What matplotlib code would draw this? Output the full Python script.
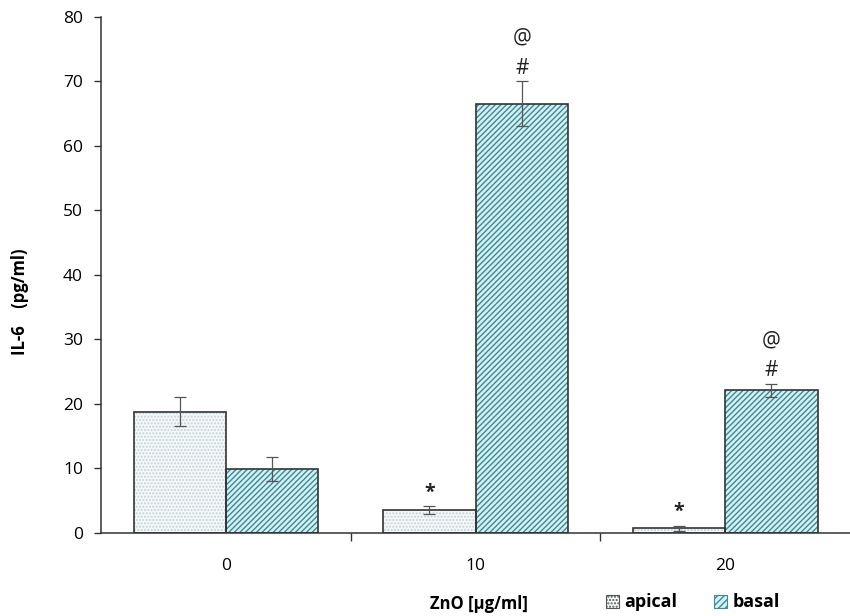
import matplotlib.pyplot as plt
from matplotlib.patches import Patch
import numpy as np

plt.rcParams['font.family'] = ['Open Sans', 'DejaVu Sans']

# data
doses = ['0', '10', '20']
apical = [18.8, 3.5, 0.7]
apical_err = [2.3, 0.6, 0.4]
basal = [9.9, 66.5, 22.1]
basal_err = [1.9, 3.5, 1.0]
apical_marks = ['', '*', '*']
basal_marks = [False, True, True]

fig = plt.figure(figsize=(8.5, 6.16), dpi=100)
ax = fig.add_axes([0.119, 0.135, 0.881, 0.838])

x = np.arange(len(doses))
w = 0.37
pos_a = x - w / 2
pos_b = x + w / 2

# hatched fills (hatch colour comes from edgecolor), then dark outlines on top
ax.bar(pos_a, apical, w, color='#f4f8f9', edgecolor='#c3d4d8', hatch='.....', linewidth=0, zorder=2)
ax.bar(pos_b, basal, w, color='#d3f0f2', edgecolor='#3f8a96', hatch='//////', linewidth=0, zorder=2)
ax.bar(pos_a, apical, w, fill=False, edgecolor='#333333', linewidth=1.2, zorder=3)
ax.bar(pos_b, basal, w, fill=False, edgecolor='#333333', linewidth=1.2, zorder=3)

ax.errorbar(pos_a, apical, yerr=apical_err, fmt='none', ecolor='#555555', elinewidth=0.9, capsize=4, capthick=0.9, zorder=4)
ax.errorbar(pos_b, basal, yerr=basal_err, fmt='none', ecolor='#555555', elinewidth=0.9, capsize=4, capthick=0.9, zorder=4)

for xp, v, e, m in zip(pos_a, apical, apical_err, apical_marks):
    if m:
        ax.text(xp, v + e + 0.6, m, ha='center', va='bottom', fontsize=14, fontweight='bold', color='#222222')
for xp, v, e, m in zip(pos_b, basal, basal_err, basal_marks):
    if m:
        ax.text(xp, v + e + 0.4, '#', ha='center', va='bottom', fontsize=15, color='#222222')
        ax.text(xp, v + e + 5.0, '@', ha='center', va='bottom', fontsize=15, color='#222222')

ax.set_xlim(-0.5, 2.5)
ax.set_ylim(0, 80)
ax.set_yticks(np.arange(0, 81, 10))
ax.set_xticks([0.5, 1.5])
ax.set_xticklabels([])
ax.set_xticks(x, minor=True)
ax.set_xticklabels(doses, minor=True)
ax.tick_params(axis='x', which='minor', length=0, pad=18, labelsize=12.5)
ax.tick_params(axis='x', which='major', length=6, width=1, direction='out', color='#333333')
ax.tick_params(axis='y', length=5, width=1, direction='out', labelsize=12.5, color='#333333', pad=8)

for s in ['top', 'right']:
    ax.spines[s].set_visible(False)
for s in ['left', 'bottom']:
    ax.spines[s].set_color('#333333')
    ax.spines[s].set_linewidth(1.1)

fig.text(0.024, 0.51, 'IL-6    (pg/ml)', rotation=90, ha='center', va='center', fontsize=12, fontweight='bold')
fig.text(0.563, 0.02, 'ZnO [µg/ml]', ha='center', va='center', fontsize=12, fontweight='bold')

handles = [Patch(facecolor='#f4f8f9', edgecolor='#555555', hatch='.....', linewidth=0.8),
           Patch(facecolor='#d3f0f2', edgecolor='#3f8a96', hatch='/////', linewidth=0.8)]
fig.legend(handles, ['apical', 'basal'], loc='center', bbox_to_anchor=(0.815, 0.022), ncol=2,
           frameon=False, handlelength=0.75, handleheight=0.75, handletextpad=0.3, columnspacing=2.0,
           prop={'weight': 'bold', 'size': 13})

fig.savefig('out.png', dpi=100)
